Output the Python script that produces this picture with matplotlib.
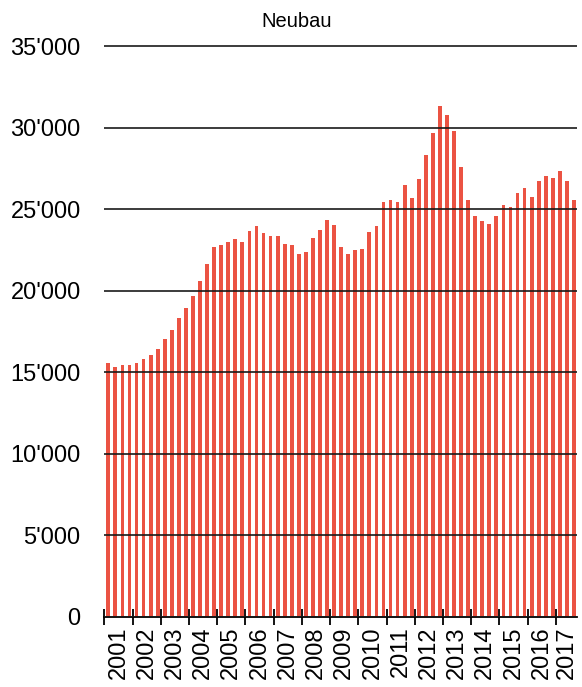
import numpy as np
import matplotlib
matplotlib.use("Agg")
import matplotlib.pyplot as plt
from matplotlib.ticker import FuncFormatter

plt.rcParams['font.family'] = ['Liberation Sans', 'DejaVu Sans']

# quarterly values, 2001 Q1 .. 2017 Q3
neubau = [
    15590, 15350, 15470, 15470, 15570, 15800, 16085, 16410,   # 2001-2002
    17040, 17575, 18310, 18940, 19660, 20600, 21640, 22670,   # 2003-2004
    22800, 22990, 23200, 22990, 23640, 23950, 23530, 23330,   # 2005-2006
    23330, 22890, 22810, 22260, 22360, 23210, 23730, 24350,   # 2007-2008
    24050, 22680, 22270, 22470, 22575, 23620, 23940, 25430,   # 2009-2010
    25550, 25430, 26490, 25655, 26825, 28290, 29640, 31310,   # 2011-2012
    30760, 29820, 27575, 25570, 24590, 24280, 24080, 24590,   # 2013-2014
    25230, 25125, 25960, 26270, 25755, 26700, 27020, 26920,   # 2015-2016
    27350, 26700, 25570,                                      # 2017
]
years = list(range(2001, 2018))
title = "Neubau"

fig = plt.figure(figsize=(5.82, 6.87), dpi=100)
ax = fig.add_axes([0.1792, 0.1019, 0.8122, 0.8335])

x = np.arange(len(neubau)) + 0.57
ax.bar(x, neubau, width=0.54, color='#EB5343', edgecolor='none', zorder=1)

ax.set_xlim(0, 67)
ax.set_ylim(0, 35100)

# year boundaries as major ticks, labels in the middle of each year
ax.set_xticks(np.arange(0, 68, 4))
ax.set_xticklabels([])
label_pos = [4 * i + 2 for i in range(len(years) - 1)] + [64 + 1.5]
ax.set_xticks(label_pos, minor=True)
ax.set_xticklabels([str(y) for y in years], minor=True, rotation=90, fontsize=17)
ax.tick_params(axis='x', which='major', direction='inout', length=11, width=1.3, color='black')
ax.tick_params(axis='x', which='minor', length=0, pad=7)

ax.set_yticks(np.arange(0, 35001, 5000))
ax.yaxis.set_major_formatter(FuncFormatter(lambda v, p: f"{int(v):,}".replace(",", "'")))
ax.tick_params(axis='y', length=0, pad=17, labelsize=17)

ax.set_axisbelow(False)
ax.yaxis.grid(True, color='#1a1a1a', linewidth=1.2)
for s in ['top', 'right', 'left']:
    ax.spines[s].set_visible(False)
ax.spines['bottom'].set_linewidth(1.3)

fig.text(0.509, 0.969, title, ha='center', va='center', fontsize=14.5)

fig.savefig("out.png", dpi=100)
